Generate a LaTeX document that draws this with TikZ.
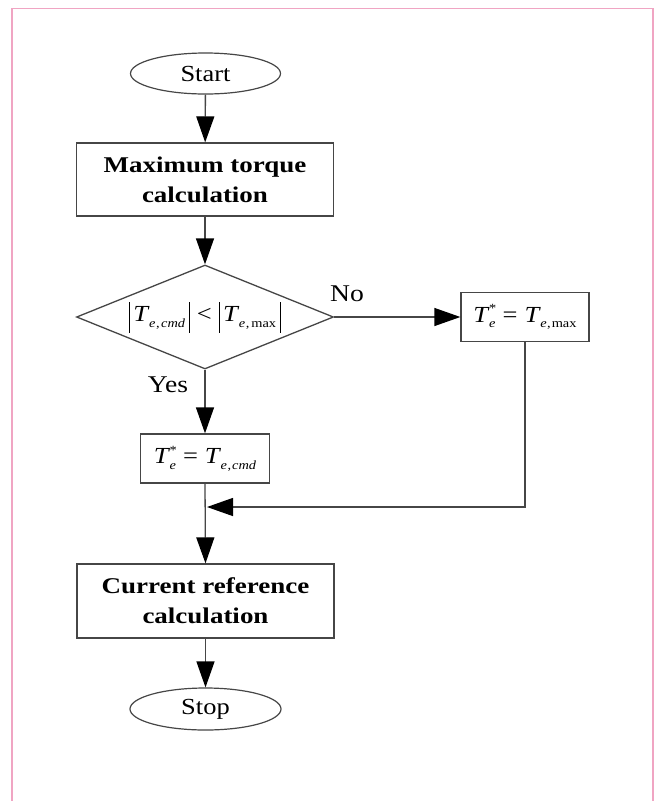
\documentclass[tikz,border=0pt]{standalone}
\usepackage{fontspec}
\setmainfont{Liberation Serif}
\newfontfamily\regf{Liberation Serif}[FakeStretch=1.15]
\newfontfamily\boldf{Liberation Serif}[FakeStretch=1.2]
\usetikzlibrary{shapes.geometric,arrows.meta}
\definecolor{pinkframe}{RGB}{240,165,195}
\definecolor{linegray}{RGB}{70,70,70}
\newcommand\subf{\fontsize{12.5}{12.5}\selectfont}
\newcommand\mathf{\regf\fontsize{23}{23}\selectfont}
\newcommand\absb{\rule[-11pt]{0.8pt}{31pt}}
\newcommand\Tsub[1]{\textit{T}\kern-0.5pt\raisebox{-5.5pt}{\subf #1}}
\newcommand\Tstar{\textit{T}\kern-0.5pt\raisebox{-5.5pt}{\subf\rlap{\raisebox{15pt}{*}}\textit{e}}}
\tikzset{
  ln/.style={draw=linegray, line width=1.3pt},
  arr/.style={ln, -{Triangle[length=26pt,width=18pt,color=black]}},
  term/.style={ellipse, draw=linegray, line width=1.2pt, inner sep=0pt,
    minimum width=150pt, minimum height=41pt, font=\regf\fontsize{23}{23}\selectfont},
  pbox/.style={rectangle, draw=linegray, line width=1.3pt, inner sep=0pt,
    minimum width=257pt, minimum height=73pt, align=center,
    font=\boldf\bfseries\fontsize{22.5}{30}\selectfont},
  mbox/.style={rectangle, draw=linegray, line width=1.3pt, inner sep=0pt,
    minimum width=128pt, minimum height=49pt, font=\mathf},
  decbox/.style={diamond, draw=linegray, line width=1.3pt, inner sep=0pt,
    aspect=2.47, minimum width=257pt, minimum height=104pt, font=\mathf},
  lab/.style={inner sep=0pt, font=\regf\fontsize{24}{24}\selectfont}
}
\begin{document}
\begin{tikzpicture}[x=1pt,y=1pt]
\useasboundingbox (0,0) rectangle (655,-801);
\fill[white] (0,0) rectangle (655,-801);
\draw[pinkframe, line width=1.2pt] (12,-801) -- (12,-8.5) -- (653,-8.5) -- (653,-801);

\node[term] (start) at (205.5,-73.5) {Start};
\node[pbox] (calc1) at (205,-179.5) {Maximum torque\\calculation};
\node[decbox] (dec) at (205,-317) {\absb\kern3.5pt\Tsub{\textit{e}\kern0.5pt,\kern1.5pt\textit{cmd}}\kern4pt\absb\kern7pt<\kern7pt\absb\kern3.5pt\Tsub{\textit{e}\kern0.5pt,\kern2pt max}\kern4pt\absb};
\node[mbox] (tmax) at (525,-317) {\Tstar\kern7pt=\kern7pt\Tsub{\textit{e}\kern0.5pt,\kern1pt max}};
\node[mbox, minimum width=129pt] (tcmd) at (205,-458.5) {\Tstar\kern7pt=\kern7pt\Tsub{\textit{e}\kern0.5pt,\kern1pt\textit{cmd}}};
\node[pbox, minimum height=74pt] (calc2) at (205.5,-601) {Current reference\\calculation};
\node[term, minimum width=151pt, minimum height=42pt] (stop) at (205.5,-709) {Stop};
\coordinate (j) at (205,-507);

\node[lab] (no) at (347,-294) {No};
\node[lab] (yes) at (168,-385) {Yes};

\draw[arr] (start) -- (calc1);
\draw[arr] (calc1) -- (dec.north);
\draw[arr] (dec.east) -- (tmax.west);
\draw[arr] (dec.south) -- (tcmd.north);
\draw[arr] (tcmd.south) -- (calc2.north);
\draw[arr, shorten >=2pt] (tmax.south) |- (j);
\draw[arr] (calc2) -- (stop);
\end{tikzpicture}
\end{document}
